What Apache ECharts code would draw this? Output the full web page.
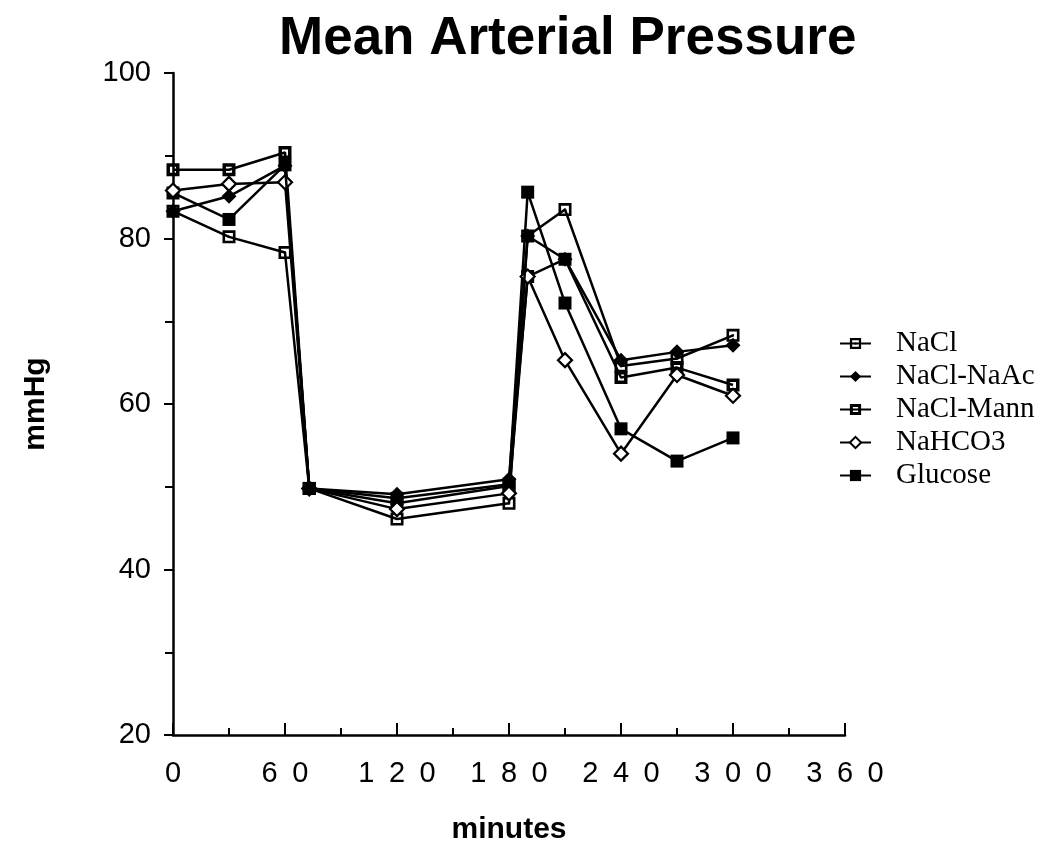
<!DOCTYPE html>
<html>
<head>
<meta charset="utf-8">
<script src="https://cdn.jsdelivr.net/npm/echarts@6/dist/echarts.min.js"></script>
<style>
html,body{margin:0;padding:0;background:#fff;}
#chart{width:1054px;height:868px;}
</style>
</head>
<body>
<div id="chart"></div>
<script>
// ---- data ----
const times = [0, 30, 60, 73, 120, 180, 190, 210, 240, 270, 300];
const seriesNames = ['NaCl', 'NaCl-NaAc', 'NaCl-Mann', 'NaHCO3', 'Glucose'];
const nacl     = [83.3, 80.2, 78.3, 49.8, 46.1, 48.0, 80.3, 83.5, 64.6, 65.5, 68.3];
const naclNaAc = [83.3, 85.1, 88.8, 49.8, 49.1, 50.9, 80.3, 77.5, 65.3, 66.3, 67.1];
const naclMann = [88.3, 88.3, 90.4, 49.8, 48.0, 50.1, 75.4, 77.5, 63.2, 64.4, 62.3];
const nahco3   = [85.8, 86.6, 86.8, 49.8, 47.3, 49.2, 75.4, 65.3, 54.0, 63.5, 61.0];
const glucose  = [85.5, 82.3, 88.9, 49.8, 48.6, 50.3, 85.6, 72.2, 57.0, 53.1, 55.9];
const yTicks = [20, 40, 60, 80, 100];
const xTicks = [0, 60, 120, 180, 240, 300, 360];

const values = [nacl, naclNaAc, naclMann, nahco3, glucose];

// ---- marker styles ----
const SQ_DOT  = 'path://M0,0H12V12H0Z M2.4,2.4V9.6H9.6V2.4Z M5,5H7V7H5Z';
const SQ_OPEN = 'path://M0,0H12V12H0Z M3.2,3.2V8.8H8.8V3.2Z';
const markers = [
  {symbol: SQ_DOT, size: 13, fill: '#000', border: 0},
  {symbol: 'diamond', size: 15, fill: '#000', border: 0},
  {symbol: SQ_OPEN, size: 13, fill: '#000', border: 0},
  {symbol: 'diamond', size: 14, fill: '#fff', border: 2.2},
  {symbol: 'rect', size: 13, fill: '#000', border: 0}
];
const zOrder = [3, 6, 4, 5, 2];

const chart = echarts.init(document.getElementById('chart'), null, {renderer: 'canvas'});

const series = seriesNames.map((name, i) => ({
  name: name,
  type: 'line',
  data: times.map((t, j) => [t, values[i][j]]),
  symbol: markers[i].symbol,
  symbolSize: markers[i].size,
  symbolKeepAspect: true,
  showAllSymbol: true,
  lineStyle: {color: '#000', width: 2.5},
  itemStyle: {color: markers[i].fill, borderColor: '#000', borderWidth: markers[i].border, opacity: 1},
  emphasis: {disabled: true},
  z: zOrder[i]
}));

const axisFont = 'Liberation Sans, Arial, Helvetica, sans-serif';

chart.setOption({
  animation: false,
  backgroundColor: '#fff',
  title: {
    text: 'Mean Arterial Pressure',
    left: 274,
    top: 8,
    textStyle: {fontFamily: axisFont, fontSize: 53, fontWeight: 'bold', color: '#000'}
  },
  legend: {
    orient: 'vertical',
    left: 834,
    top: 324,
    itemWidth: 31,
    itemHeight: 14,
    itemGap: 4,
    data: seriesNames,
    textStyle: {fontFamily: 'Liberation Serif, Times New Roman, serif', fontSize: 29, color: '#000',
                lineHeight: 26, padding: [0, 0, 0, 20]},
    selectedMode: false
  },
  grid: {left: 173, top: 73, width: 672, height: 662, containLabel: false, outerBoundsMode: 'none'},
  xAxis: {
    type: 'value',
    min: xTicks[0],
    max: xTicks[xTicks.length - 1],
    interval: 60,
    name: 'minutes',
    nameLocation: 'middle',
    nameGap: 80,
    nameTextStyle: {fontFamily: axisFont, fontSize: 30, fontWeight: 'bold', color: '#000'},
    axisLine: {lineStyle: {color: '#000', width: 2.5}},
    axisTick: {show: true, inside: true, length: 12, lineStyle: {color: '#000', width: 2}},
    minorTick: {show: true, splitNumber: 2, length: 7, lineStyle: {color: '#000', width: 2}},
    axisLabel: {
      margin: 24,
      fontFamily: axisFont, fontSize: 29, color: '#000',
      formatter: v => String(v).split('').join('\u2002')
    },
    splitLine: {show: false}
  },
  yAxis: {
    type: 'value',
    min: yTicks[0],
    max: yTicks[yTicks.length - 1],
    interval: 20,
    name: 'mmHg',
    nameLocation: 'middle',
    nameGap: 122,
    nameRotate: 90,
    nameTextStyle: {fontFamily: axisFont, fontSize: 30, fontWeight: 'bold', color: '#000'},
    axisLine: {lineStyle: {color: '#000', width: 2.5}},
    axisTick: {show: true, inside: false, length: 9, lineStyle: {color: '#000', width: 2}},
    minorTick: {show: true, splitNumber: 2, length: 8, lineStyle: {color: '#000', width: 2}},
    axisLabel: {margin: 22, fontFamily: axisFont, fontSize: 29, color: '#000'},
    splitLine: {show: false}
  },
  series: series
});
</script>
</body>
</html>
